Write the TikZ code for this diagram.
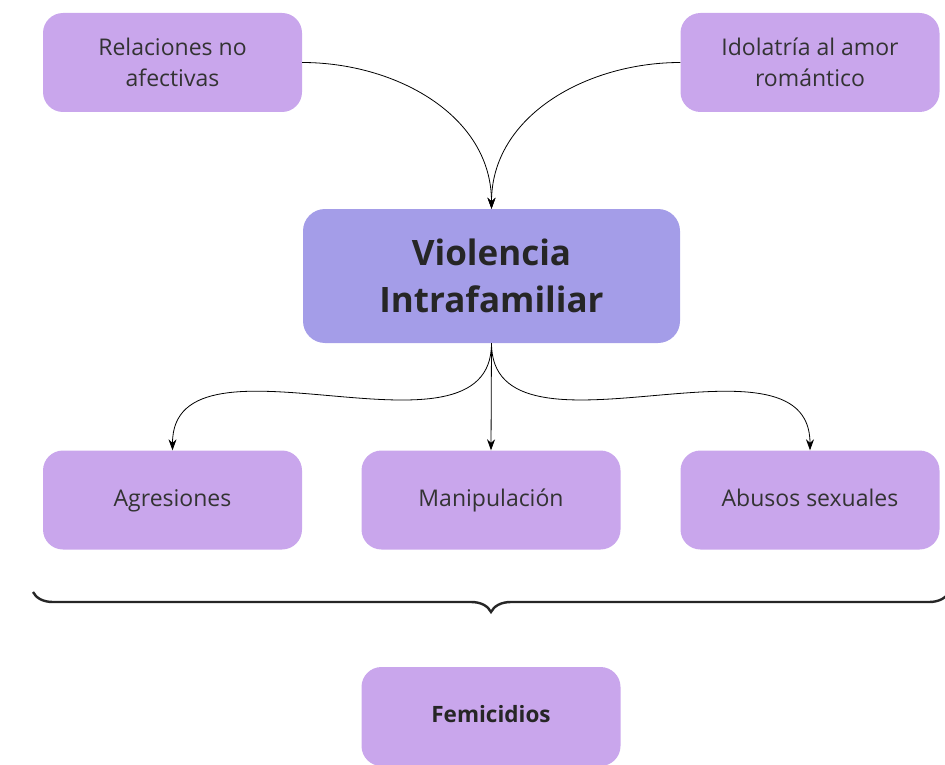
\documentclass[tikz,border=0pt]{standalone}
\usepackage{fontspec}
\setmainfont{Open Sans}
\usetikzlibrary{arrows.meta,decorations.pathreplacing}
\definecolor{boxlilac}{HTML}{C9A6EC}
\definecolor{boxviolet}{HTML}{A49DE8}
\definecolor{textgray}{HTML}{333333}

\tikzset{
  lilacbox/.style={fill=boxlilac, rounded corners=20pt, minimum width=259pt, minimum height=99pt,
    align=center, text=textgray, font=\fontsize{23}{31}\selectfont},
  onebox/.style={lilacbox, text height=17pt, text depth=5pt},
  mainbox/.style={fill=boxviolet, rounded corners=22pt, minimum width=377pt, minimum height=134pt,
    align=center, text=black!85, font=\fontsize{35}{47}\selectfont\bfseries},
  link/.style={-{Stealth[length=11pt,width=8pt]}, line width=0.8pt, black}
}

\begin{document}
\begin{tikzpicture}[x=1pt, y=-1pt]
  \useasboundingbox (0,0) rectangle (945,765);

  % causes
  \node[lilacbox] (relac) at (172.5,62.5) {Relaciones no\\afectivas};
  \node[lilacbox] (idol) at (810,62.5) {Idolatría al amor\\romántico};

  % central node
  \node[mainbox] (vif) at (491.5,276) {Violencia\\Intrafamiliar};

  % forms
  \node[onebox] (agres) at (172.5,500) {Agresiones};
  \node[onebox] (manip) at (491,500) {Manipulación};
  \node[onebox] (abus) at (810,500) {Abusos sexuales};

  % result
  \node[onebox, font=\fontsize{22.5}{28}\selectfont\bfseries, text=black!85] (femi) at (491,716.5) {Femicidios};

  \draw[link] (relac.east) to[out=0, in=90] (vif.north);
  \draw[link] (idol.west) to[out=180, in=90] (vif.north);

  \draw[link] (vif.south) to[out=-90, in=90] (agres.north);
  \draw[link] (vif.south) -- (manip.north);
  \draw[link] (vif.south) to[out=-90, in=90] (abus.north);

  % brace over the three forms
  \coordinate (bl) at (33,592);
  \coordinate (br) at (949,592);
  \draw[decorate, decoration={brace, mirror, amplitude=20pt}, line width=2.4pt, black!85] (bl) -- (br);
\end{tikzpicture}
\end{document}
